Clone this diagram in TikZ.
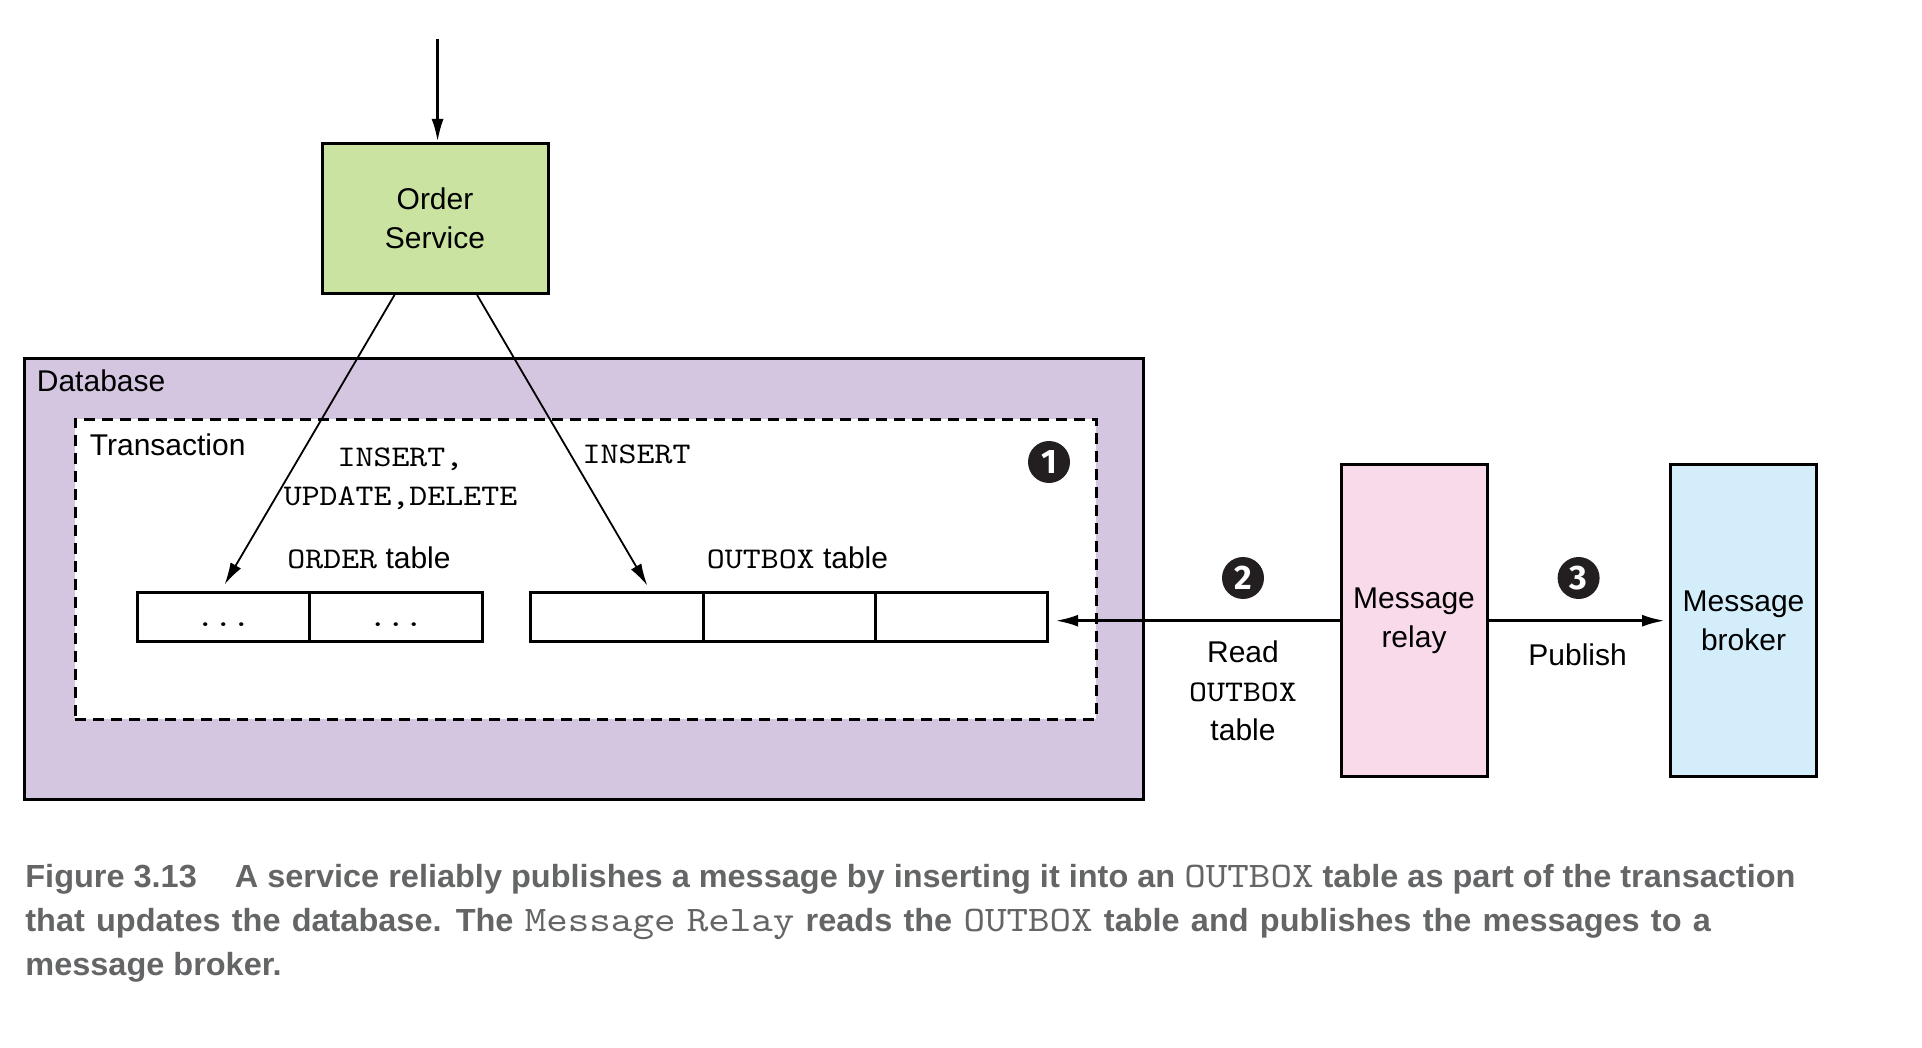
\documentclass[tikz,border=0pt]{standalone}
\usepackage{fontspec}
\setmainfont{Liberation Sans}
\newfontfamily\cmono[Extension=.otf, FakeStretch=1.14]{lmmono10-regular}
\newfontfamily\numfont{Fira Sans}
\newfontfamily\capfont[FakeStretch=1.015]{Liberation Sans}
\usetikzlibrary{arrows.meta}
\definecolor{osgreen}{HTML}{CAE3A0}
\definecolor{dbpurple}{HTML}{D4C5E1}
\definecolor{relaypink}{HTML}{F9DAEA}
\definecolor{brokerblue}{HTML}{D3EDFA}
\definecolor{numblack}{HTML}{231F20}
\definecolor{capgray}{HTML}{646566}
\tikzset{
  box/.style={draw, line width=1.5pt, inner sep=0pt, align=center,
    font=\fontsize{15}{19.5}\selectfont},
  cell/.style={draw, line width=1.5pt, minimum width=86.2pt,
    minimum height=24.5pt, inner sep=0pt, fill=white},
  num/.style={circle, fill=numblack, text=white, minimum size=21pt,
    inner sep=0pt, font=\numfont\bfseries\fontsize{17}{17}\selectfont},
  lbl/.style={inner sep=0pt, align=center, font=\fontsize{15}{19.5}\selectfont},
  mono/.style={inner sep=0pt, align=center, font=\cmono\fontsize{15}{19.5}\selectfont},
  captext/.style={inner sep=0pt, anchor=base west, text=capgray,
    font=\capfont\bfseries\fontsize{16}{22}\selectfont},
  arr/.style={-{Latex[length=11.5pt,width=6pt]}, line width=1.5pt},
  thinarr/.style={-{Latex[length=11pt,width=6pt]}, line width=0.9pt},
}
\newcommand{\capmono}[1]{{\mdseries\cmono\fontsize{18}{22}\selectfont #1}}
\newcommand{\dmono}[1]{{\cmono\fontsize{15}{19.5}\selectfont #1}}
\begin{document}
\begin{tikzpicture}[x=0.5pt,y=-0.5pt]
\useasboundingbox (0,0) rectangle (1922,1048);

% database and transaction
\node[draw, line width=1.5pt, fill=dbpurple, minimum width=559.5pt,
  minimum height=220.5pt, inner sep=0pt] (db) at (584,578.5) {};
\node[lbl, anchor=base west] (dblabel) at (36.5,391.5) {Database};
\node[draw, dash pattern=on 5.5pt off 3.5pt, line width=1.5pt, fill=white,
  minimum width=510.5pt, minimum height=150pt, inner sep=0pt] (tx) at (585.5,569) {};
\node[lbl, anchor=base west] (txlabel) at (89.5,455.5) {Transaction};

% order service
\node[box, fill=osgreen, minimum width=113pt, minimum height=75pt] (os) at (435,218.5) {Order\\Service};
\coordinate (top) at (437.6,39);
\draw[arr] (top) -- (top |- os.north);

% tables
\node[cell] (c1) at (223.3,616.5) {};
\node[cell] (c2) at (395.8,616.5) {};
\node[cell] (o1) at (617,616.5) {};
\node[cell] (o2) at (789.2,616.5) {};
\node[cell] (o3) at (961.5,616.5) {};
\node[mono, anchor=base] (d1) at (223.3,626) {...};
\node[mono, anchor=base] (d2) at (395.8,626) {...};
\node[lbl, anchor=base] (ordlabel) at (369,568) {\dmono{ORDER} table};
\node[lbl, anchor=base] (outlabel) at (797.5,568) {\dmono{OUTBOX} table};
\node[mono] (ins1) at (400.5,478.5) {INSERT,\\UPDATE,DELETE};
\node[mono, anchor=base] (ins2) at (636.6,463) {INSERT};

% arrows from order service
\draw[thinarr] ([xshift=37pt]os.south west) -- ([xshift=44.5pt,yshift=3pt]c1.north west);
\draw[thinarr] ([xshift=78.3pt]os.south west) -- ([xshift=59pt,yshift=2.5pt]o1.north west);

% relay and broker
\node[box, fill=relaypink, minimum width=73pt, minimum height=156.25pt] (relay) at (1414,620.7) {Message\\relay};
\node[box, fill=brokerblue, minimum width=73pt, minimum height=156.25pt] (broker) at (1743.5,620.7) {Message\\broker};
\draw[arr, shorten >=3pt] (relay.west) -- (relay.west -| o3.east);
\draw[arr, shorten >=2pt] (relay.east) -- (broker.west);
\node[lbl] (readlbl) at (1243,691) {Read\\\dmono{OUTBOX}\\table};
\node[lbl, anchor=base] (publbl) at (1577.6,665) {Publish};

% numbered markers
\node[num] (n1) at (1049,462) {1};
\node[num] (n2) at (1243,578) {2};
\node[num] (n3) at (1578.6,578) {3};

% caption
\node[captext] (cap1) at (25,887) {Figure 3.13\hspace{19pt}A service reliably publishes a message by inserting it into an \capmono{OUTBOX} table as part of the transaction};
\node[captext] (cap2) at (25,931) {\spaceskip=5.6pt\relax that updates the database. The \capmono{Message Relay} reads the \capmono{OUTBOX} table and publishes the messages to a};
\node[captext] (cap3) at (25,975) {message broker.};
\end{tikzpicture}
\end{document}
